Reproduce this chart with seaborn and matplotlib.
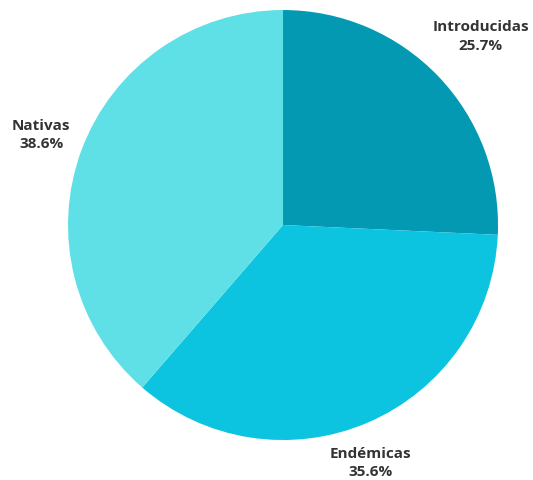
import matplotlib
matplotlib.use('Agg')
import numpy as np
import matplotlib.pyplot as plt
import seaborn as sns

categories = ['Introducidas', 'Endémicas', 'Nativas']
shares = [25.7, 35.6, 38.6]
colors = ['#0399b3', '#0cc3e0', '#5ee0e6']

sns.set_theme(style='white')
plt.rcParams['font.family'] = ['Open Sans', 'DejaVu Sans']

fig = plt.figure(figsize=(5.33, 4.8), dpi=100)
ax = fig.add_axes([0.1276, 0.0833, 0.8068, 0.8958])

labels = [f'{c}\n{v:.1f}%' for c, v in zip(categories, shares)]
wedges, texts = ax.pie(shares, labels=labels, colors=colors, startangle=90,
                       counterclock=False,
                       wedgeprops={'linewidth': 0},
                       textprops={'fontsize': 11, 'fontweight': 'bold',
                                  'color': '#333333', 'linespacing': 1.4})

# label distance / angle nudge per slice, to mimic the original layout
label_dist = [1.27, 1.18, 1.20]
label_nudge = [0, -3, 0]
for w, t, d, n in zip(wedges, texts, label_dist, label_nudge):
    ang = np.deg2rad((w.theta1 + w.theta2) / 2 + n)
    t.set_position((d * np.cos(ang), d * np.sin(ang)))
    t.set_ha('center')
    t.set_va('center')
    t.set_multialignment('center')
    t.set_clip_on(False)

ax.set_aspect('equal')
ax.set_xlim(-1, 1)
ax.set_ylim(-1, 1)

fig.savefig('out.png', dpi=100, facecolor='white')
